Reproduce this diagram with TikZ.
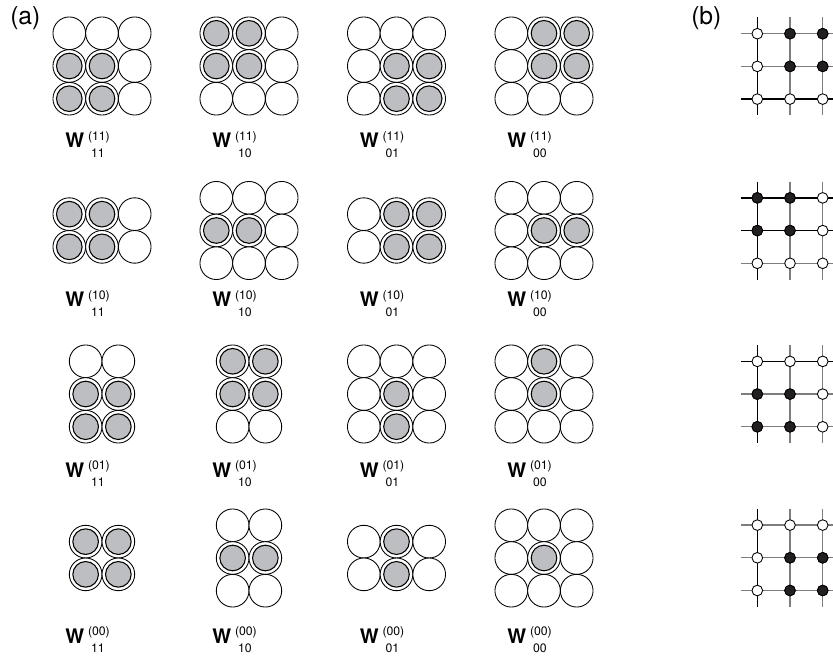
\documentclass[tikz,border=0pt]{standalone}
\usepackage{fontspec}
\setmainfont{TeX Gyre Heros}
\definecolor{shadeg}{RGB}{189,190,193}
\definecolor{lgray}{RGB}{125,125,125}
\definecolor{nodeblack}{RGB}{35,31,32}
\def\D{32.7}
% cx cy ncol nrow
\newcommand\agrid[4]{%
  \foreach \i in {1,...,#3}{\foreach \j in {1,...,#4}{
    \draw[circw] ({#1+(\i-(#3+1)/2)*\D},{#2+(\j-(#4+1)/2)*\D}) circle[radius=12.26pt];}}}
% cx cy ncol nrow list of col/row
\newcommand\ashade[5]{%
  \foreach \i/\j in {#5}{
    \draw[circs] ({#1+(\i-(#3+1)/2)*\D},{#2+(\j-(#4+1)/2)*\D}) circle[radius=9.6pt];}}
% name x baseline sup sub
\newcommand\wl[5]{%
  \node[wlab] (#1) at (#2,#3) {W};
  \node[slab] (#1u) at ([shift={(14.5,-7.5)}]#1.base east) {(#4)};
  \node[slab] (#1d) at ([shift={(13.5,9.5)}]#1.base east) {#5};}
% cy h1 h2 h3 v1 v2 v3 blacklist
\newcommand\bgrid[8]{%
  \foreach \k/\c in {1/#2,2/#3,3/#4}{\draw[bline,draw=\c] (741,{#1+(\k-2)*\D}) -- (845,{#1+(\k-2)*\D});}
  \foreach \k/\c in {1/#5,2/#6,3/#7}{\draw[bline,draw=\c] ({790+(\k-2)*\D},{#1-1.5*\D}) -- ({790+(\k-2)*\D},{#1+1.5*\D});}
  \foreach \i in {1,2,3}{\foreach \j in {1,2,3}{
    \draw[bnode,fill=white] ({790+(\i-2)*\D},{#1+(\j-2)*\D}) circle[radius=4pt];}}
  \foreach \i/\j in {#8}{
    \draw[bnode,fill=nodeblack] ({790+(\i-2)*\D},{#1+(\j-2)*\D}) circle[radius=4pt];}}
\begin{document}
\begin{tikzpicture}[x=0.75pt,y=-0.75pt,
  circw/.style={draw=black,line width=0.65pt,fill=white},
  circs/.style={draw=black,line width=0.8pt,fill=shadeg},
  bline/.style={line width=0.95pt},
  bnode/.style={draw=black,line width=0.65pt},
  wlab/.style={inner sep=0pt,anchor=base west,font=\fontsize{15}{15}\selectfont\bfseries},
  slab/.style={inner sep=0pt,anchor=base,font=\fontsize{9.2}{10}\selectfont},
  plab/.style={inner sep=0pt,anchor=west,font=\fontsize{18.5}{20}\selectfont}]
\clip (0,0) rectangle (833,656);
\fill[white] (0,0) rectangle (833,656);
\node[plab] (pa) at (10,18) {(a)};
\node[plab] (pb) at (691,18) {(b)};
% ---------- row 1 ----------
\agrid{102}{66}{3}{3}\ashade{102}{66}{3}{3}{1/2,2/2,1/3,2/3}
\agrid{249}{66}{3}{3}\ashade{249}{66}{3}{3}{1/1,2/1,1/2,2/2}
\agrid{396.5}{66}{3}{3}\ashade{396.5}{66}{3}{3}{2/2,3/2,2/3,3/3}
\agrid{544}{66}{3}{3}\ashade{544}{66}{3}{3}{2/1,3/1,2/2,3/2}
\wl{w1}{65}{148}{11}{11}
\wl{w2}{212}{148}{11}{10}
\wl{w3}{359.5}{148}{11}{01}
\wl{w4}{507}{148}{11}{00}
% ---------- row 2 ----------
\agrid{102}{230.5}{3}{2}\ashade{102}{230.5}{3}{2}{1/1,2/1,1/2,2/2}
\agrid{249}{230.5}{3}{3}\ashade{249}{230.5}{3}{3}{1/2,2/2}
\agrid{396.5}{230.5}{3}{2}\ashade{396.5}{230.5}{3}{2}{2/1,3/1,2/2,3/2}
\agrid{544}{230.5}{3}{3}\ashade{544}{230.5}{3}{3}{2/2,3/2}
\wl{w5}{65}{307}{10}{11}
\wl{w6}{212}{307}{10}{10}
\wl{w7}{359.5}{307}{10}{01}
\wl{w8}{507}{307}{10}{00}
% ---------- row 3 ----------
\agrid{102}{394}{2}{3}\ashade{102}{394}{2}{3}{1/2,2/2,1/3,2/3}
\agrid{249}{394}{2}{3}\ashade{249}{394}{2}{3}{1/1,2/1,1/2,2/2}
\agrid{396.5}{394}{3}{3}\ashade{396.5}{394}{3}{3}{2/2,2/3}
\agrid{544}{394}{3}{3}\ashade{544}{394}{3}{3}{2/1,2/2}
\wl{w9}{65}{477}{01}{11}
\wl{w10}{212}{477}{01}{10}
\wl{w11}{359.5}{477}{01}{01}
\wl{w12}{507}{477}{01}{00}
% ---------- row 4 ----------
\agrid{102}{558}{2}{2}\ashade{102}{558}{2}{2}{1/1,2/1,1/2,2/2}
\agrid{249}{558}{2}{3}\ashade{249}{558}{2}{3}{1/2,2/2}
\agrid{396.5}{558}{3}{2}\ashade{396.5}{558}{3}{2}{2/1,2/2}
\agrid{544}{558}{3}{3}\ashade{544}{558}{3}{3}{2/2}
\wl{w13}{65}{643}{00}{11}
\wl{w14}{212}{643}{00}{10}
\wl{w15}{359.5}{643}{00}{01}
\wl{w16}{507}{643}{00}{00}
% ---------- panel (b) ----------
\bgrid{66.4}{lgray}{lgray}{black}{black}{lgray}{lgray}{2/1,3/1,2/2,3/2}
\bgrid{230.6}{black}{black}{lgray}{black}{lgray}{lgray}{1/1,2/1,1/2,2/2}
\bgrid{394.1}{black}{lgray}{lgray}{black}{lgray}{lgray}{1/2,2/2,1/3,2/3}
\bgrid{557.8}{lgray}{lgray}{lgray}{black}{lgray}{lgray}{2/2,3/2,2/3,3/3}
\end{tikzpicture}
\end{document}
